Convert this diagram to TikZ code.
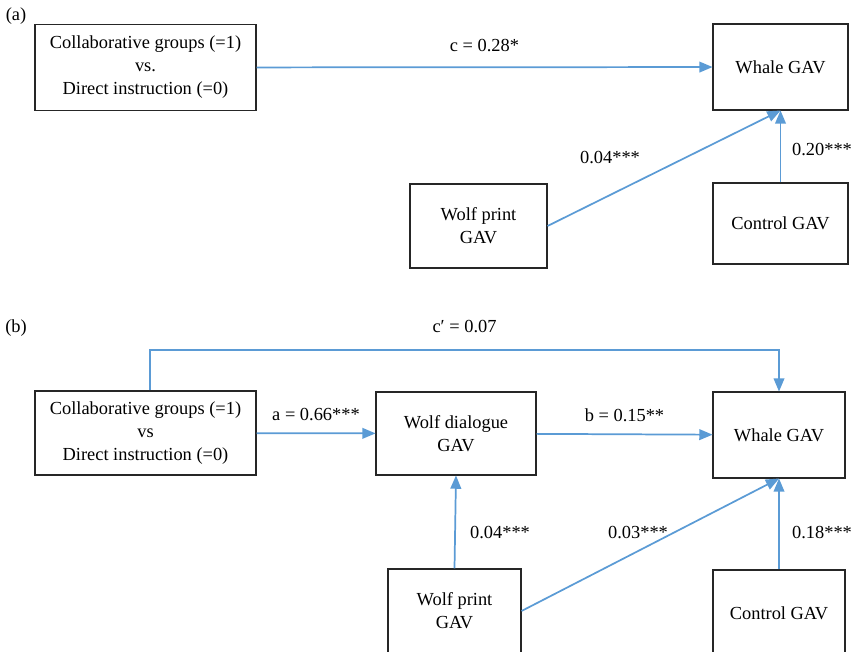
\documentclass[tikz,border=0pt]{standalone}
\usepackage{fontspec}
\setmainfont{Liberation Serif}
\newfontfamily\diagfont{Liberation Serif}
\usetikzlibrary{arrows,positioning}
\definecolor{linkblue}{RGB}{91,155,213}
\tikzstyle{block} = [rectangle, draw=black!85, line width=0.8pt, align=center, inner sep=0pt, font=\diagfont\fontsize{13.8}{17.3}\selectfont]
\tikzstyle{link} = [->, draw=linkblue, line width=1.3pt]
\tikzstyle{coef} = [inner sep=0pt, font=\diagfont\fontsize{13.8}{17.3}\selectfont]

\begin{document}
\begin{tikzpicture}[x=0.75pt, y=-0.75pt, >=triangle 45]
	\clip (0,0) rectangle (852,652);
	% (a)
	\node[coef] (tagA) at (16,16) {(a)};
	\node[block, minimum width=165.75pt, minimum height=64.5pt] (grpA) at (145.5,67.5) {Collaborative groups (=1)\\vs.\\Direct instruction (=0)};
	\node[block, minimum width=101.25pt, minimum height=64.5pt] (whaleA) at (780.5,67) {Whale GAV};
	\node[block, minimum width=102.75pt, minimum height=63pt] (printA) at (478.5,226) {Wolf print\\GAV};
	\node[block, minimum width=101.25pt, minimum height=60.75pt] (ctrlA) at (780.5,223.5) {Control GAV};
	\draw[link] (grpA) -- node[coef, above=11pt] {c = 0.28*} (whaleA);
	\draw[link] (printA.east) -- (whaleA.south);
	\draw[link] (ctrlA) -- (whaleA);
	\node[coef] at (610,158) {0.04***};
	\node[coef] at (822,150) {0.20***};

	% (b)
	\node[coef] (tagB) at (16,328) {(b)};
	\node[block, minimum width=165.75pt, minimum height=63pt] (grpB) at (145.5,433) {Collaborative groups (=1)\\vs\\Direct instruction (=0)};
	\node[block, minimum width=120pt, minimum height=62.25pt] (dialB) at (456,433.5) {Wolf dialogue\\GAV};
	\node[block, minimum width=99pt, minimum height=64.5pt] (whaleB) at (779,435) {Whale GAV};
	\node[block, minimum width=99.75pt, minimum height=63pt] (printB) at (454.5,611) {Wolf print\\GAV};
	\node[block, minimum width=99pt, minimum height=64.5pt] (ctrlB) at (779,613) {Control GAV};
	\coordinate (upL) at ([xshift=3.4pt]grpB.north |- 0,350);
	\coordinate (upR) at (whaleB.north |- 0,350);
	\draw[link] ([xshift=3.4pt]grpB.north) -- (upL) -- node[coef, above=12pt] {c′ = 0.07} (upR) -- (whaleB.north);
	\draw[link] (grpB) -- node[coef, above=9pt] {a = 0.66***} (dialB);
	\draw[link] (dialB) -- node[coef, above=9pt] {b = 0.15**} (whaleB);
	\draw[link] (printB.north) -- (dialB.south);
	\draw[link] (printB.east) -- (whaleB.south);
	\draw[link] (ctrlB) -- (whaleB);
	\node[coef] at (500,533) {0.04***};
	\node[coef] at (638,533) {0.03***};
	\node[coef] at (822,533) {0.18***};
\end{tikzpicture}
\end{document}
